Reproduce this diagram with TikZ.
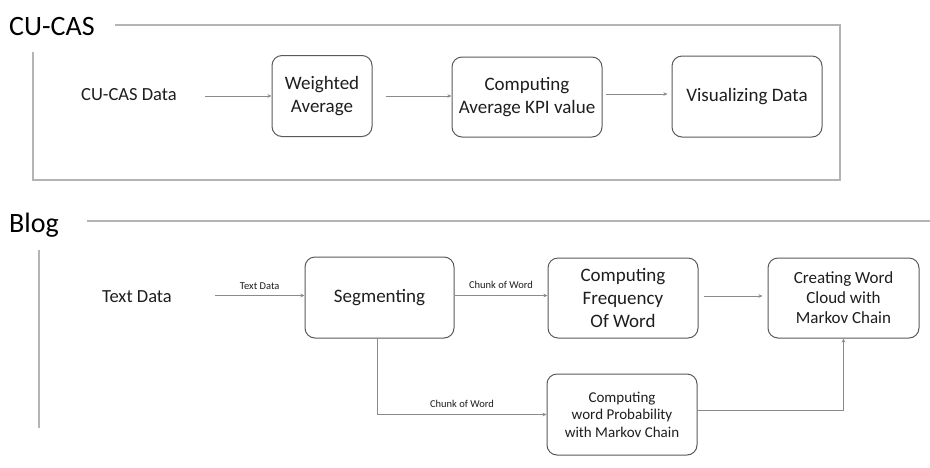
\documentclass[tikz,border=0pt]{standalone}
\usepackage{fontspec}
\setmainfont{Carlito}
\usetikzlibrary{arrows.meta}
\definecolor{panelgray}{HTML}{B4B4B4}
\definecolor{boxgray}{HTML}{5A5A5A}
\definecolor{arrowgray}{HTML}{8A8A8A}
\definecolor{txt}{HTML}{1E1E1E}
\begin{document}
\begin{tikzpicture}[x=1pt,y=-1pt,
  proc/.style={draw=boxgray,line width=1pt,rounded corners=10pt,align=center,text=txt,inner sep=0pt},
  plain/.style={text=txt,inner sep=0pt},
  flow/.style={draw=arrowgray,line width=0.8pt,-{Stealth[length=4pt,width=3.5pt]}},
  lab/.style={text=txt,inner sep=0pt,font=\fontsize{10.5}{12}\selectfont},
  panel/.style={draw=panelgray,line width=1.3pt},
  title/.style={text=black,inner sep=0pt,anchor=base west,font=\fontsize{28}{30}\selectfont}]
\useasboundingbox[fill=white] (0,0) rectangle (930,467);

% ---------- CU-CAS panel ----------
\node[title] (t1) at (9,35) {CU-CAS};
\draw[panel] (115,25) -- (840,25) -- (840,180) -- (33,180) -- (33,52);

\node[plain,font=\fontsize{18.5}{21}\selectfont] (cudata) at (129,95) {CU-CAS Data};
\coordinate (s1) at (205,96);
\node[proc,minimum width=100pt,minimum height=81pt,font=\fontsize{19}{23}\selectfont] (wa) at (322,96) {Weighted\\Average};
\node[proc,minimum width=150pt,minimum height=80pt,font=\fontsize{19}{23}\selectfont] (kpi) at (527,97) {Computing\\Average KPI value};
\node[proc,minimum width=150pt,minimum height=81pt,font=\fontsize{19}{23}\selectfont] (vis) at (747,96.5) {Visualizing Data};

\draw[flow] (s1) -- (s1 -| wa.west);
\draw[flow,shorten <=13pt] (wa.east) -- (wa.east -| kpi.west);
\draw[flow,shorten <=3pt,shorten >=4pt] ([yshift=3pt]kpi.east) -- ([yshift=3pt]kpi.east -| vis.west);

% ---------- Blog panel ----------
\node[title] (t2) at (9,232) {Blog};
\draw[panel] (87,221) -- (930,221);
\draw[panel] (39,250) -- (39,428);

\node[plain,font=\fontsize{18.5}{21}\selectfont] (txtdata) at (137,297) {Text Data};
\coordinate (s2) at (215,295.5);
\node[proc,minimum width=149pt,minimum height=81pt,font=\fontsize{19}{23}\selectfont] (seg) at (379.5,297.5) {Segmenting};
\node[proc,minimum width=150pt,minimum height=80pt,font=\fontsize{19}{23}\selectfont] (freq) at (623,298) {Computing\\Frequency\\Of Word};
\node[proc,minimum width=151pt,minimum height=80pt,font=\fontsize{17}{20}\selectfont] (cloud) at (843.5,298) {Creating Word\\Cloud with\\Markov Chain};
\node[proc,minimum width=150pt,minimum height=81pt,font=\fontsize{15}{17.5}\selectfont] (prob) at (622,414.5) {Computing\\word Probability\\with Markov Chain};

\draw[flow] (s2) -- (s2 -| seg.west) node[lab,midway,above=6pt] (l1) {Text Data};
\draw[flow] ([yshift=2pt]seg.east) -- ([yshift=2pt]seg.east -| freq.west) node[lab,midway,above=7pt] (l2) {Chunk of Word};
\draw[flow,shorten <=5pt,shorten >=5pt] ([yshift=2pt]freq.east) -- ([yshift=2pt]freq.east -| cloud.west);
\draw[flow] ([xshift=-2pt]seg.south) |- (prob.west) node[lab,pos=0.75,above=7pt] (l3) {Chunk of Word};
\draw[flow] ([yshift=4pt]prob.east) -| (cloud.south);
\end{tikzpicture}
\end{document}
